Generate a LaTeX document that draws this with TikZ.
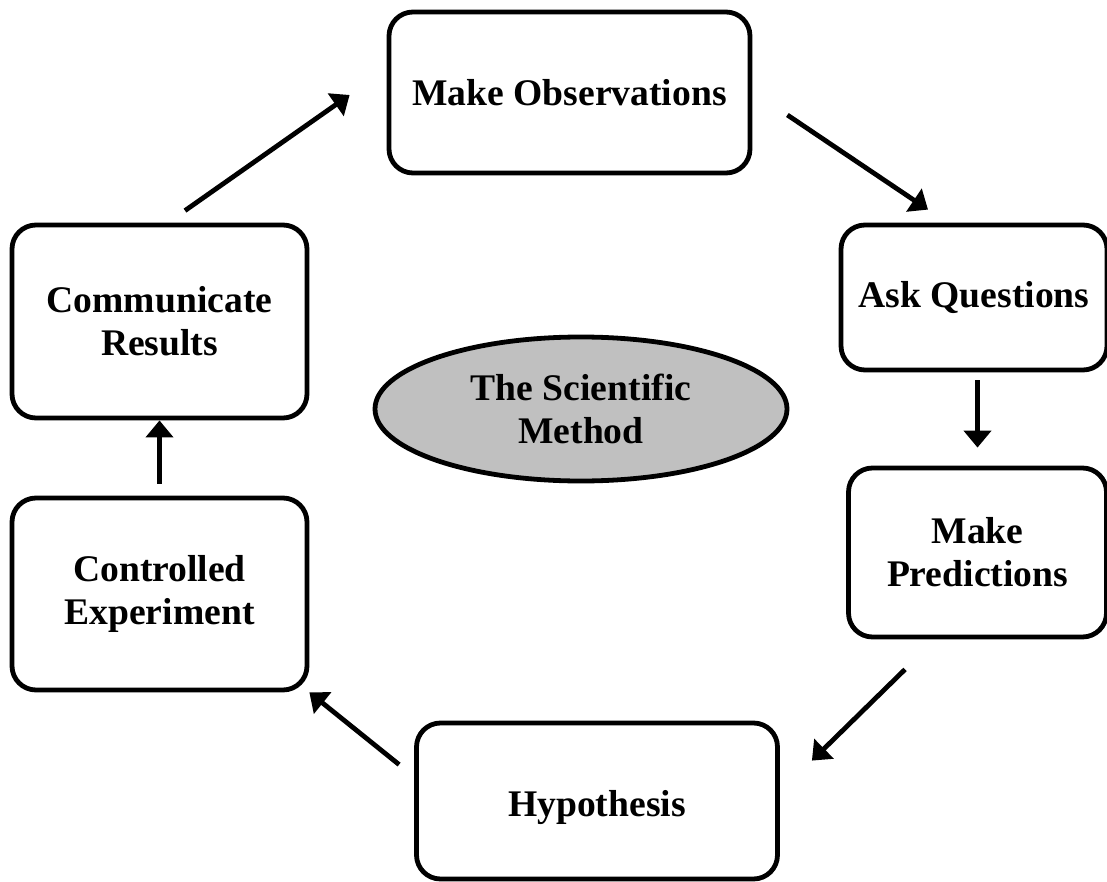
\documentclass[tikz,border=0pt]{standalone}
\usepackage{fontspec}
\setmainfont{Liberation Serif}
\usetikzlibrary{arrows.meta,shapes.geometric}
\definecolor{hubgray}{HTML}{C0C0C0}

\begin{document}
\begin{tikzpicture}[x=0.5pt, y=-0.5pt,
    font=\bfseries\fontsize{18.8}{21.5}\selectfont,
    stage/.style={draw, line width=2.4pt, rounded corners=12pt, align=center, inner sep=0pt},
    hub/.style={draw, ellipse, line width=2.4pt, fill=hubgray, align=center, inner sep=0pt,
      minimum width=206pt, minimum height=72pt},
    flow/.style={-{Triangle[length=8.5pt, width=13.5pt]}, line width=2.4pt}]
    \useasboundingbox (0,0) rectangle (1107,882);
    \node[stage, minimum width=180.5pt, minimum height=80.5pt] (obs) at (569.5,92.5) {Make Observations};
    \node[stage, minimum width=133pt, minimum height=72.5pt] (ask) at (974,297.5) {Ask Questions};
    \node[stage, minimum width=129pt, minimum height=84.5pt] (pred) at (977.5,552.5) {Make\\Predictions};
    \node[stage, minimum width=180.5pt, minimum height=78pt, text depth=0pt] (hyp) at (597,801) {\raisebox{-2pt}{Hypothesis}};
    \node[stage, minimum width=147.5pt, minimum height=96pt] (ctrl) at (159.5,594) {Controlled\\Experiment};
    \node[stage, minimum width=147.5pt, minimum height=96.5pt] (comm) at (159.5,321.5) {Communicate\\Results};
    \node[hub] (sci) at (581,409) {The Scientific\\Method};
    \path[flow]
      ([xshift=12.75pt, yshift=6pt]comm.north) edge ([xshift=-18.5pt, yshift=-1.25pt]obs.west)
      ([xshift=17.5pt, yshift=-11.25pt]obs.east) edge ([xshift=-23pt, yshift=6.5pt]ask.north)
      ([xshift=1.75pt, yshift=-4pt]ask.south) edge ([yshift=9pt]pred.north)
      ([xshift=-36.25pt, yshift=-15pt]pred.south) edge ([xshift=16pt, yshift=-20pt]hyp.north east)
      ([xshift=-7.5pt, yshift=-22pt]hyp.north west) edge (ctrl.south east)
      ([yshift=6pt]ctrl.north) edge (comm.south);
\end{tikzpicture}
\end{document}
